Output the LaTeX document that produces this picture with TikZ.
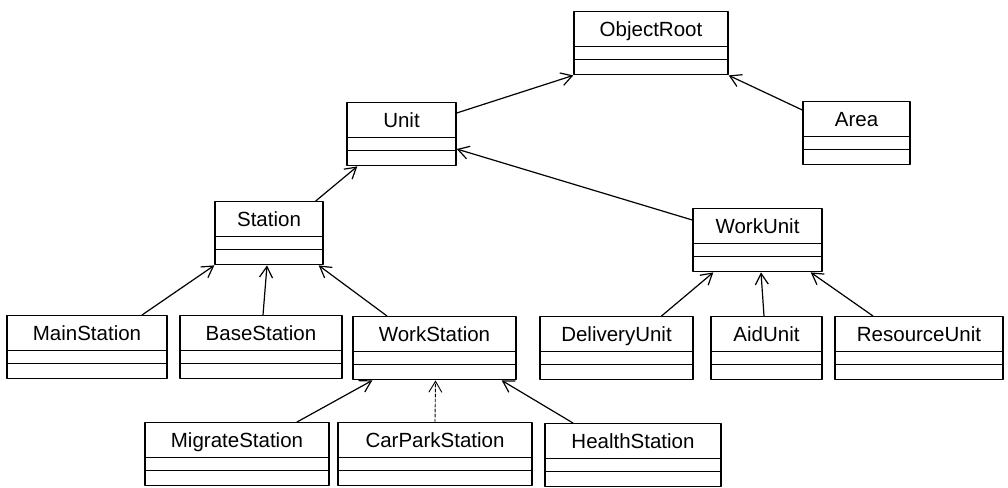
\documentclass[tikz,border=0pt]{standalone}
\usepackage{fontspec}
\setmainfont{Liberation Sans}
\usetikzlibrary{arrows.meta}
\begin{document}
\begin{tikzpicture}[x=1pt,y=-1pt,>={Straight Barb[length=11pt,width=13pt]},line cap=round,line join=round]
\path[fill=white] (0,0) rectangle (1008,486);
\tikzset{cls/.style={draw=black,line width=1.4pt,anchor=north,minimum height=63pt,inner sep=0pt,font=\fontsize{20.5}{24}\selectfont,text height=14.5pt,text depth=28.5pt,path picture={\draw[line width=1.4pt] ([yshift=-35pt]path picture bounding box.north west) -- ([yshift=-35pt]path picture bounding box.north east); \draw[line width=1.4pt] ([yshift=-47.5pt]path picture bounding box.north west) -- ([yshift=-47.5pt]path picture bounding box.north east);}},gen/.style={draw=black,line width=1.2pt,->},genreal/.style={draw=black,line width=0.9pt,densely dashed,->}}
% classes
\node[cls,minimum width=154pt] (objroot) at (651,11) {ObjectRoot};
\node[cls,minimum width=109pt] (unit) at (401.5,102) {Unit};
\node[cls,minimum width=107pt] (area) at (856.5,101) {Area};
\node[cls,minimum width=108pt] (station) at (269,201) {Station};
\node[cls,minimum width=129pt] (workunit) at (757.5,208) {WorkUnit};
\node[cls,minimum width=160pt] (mainst) at (87,315) {MainStation};
\node[cls,minimum width=162pt] (basest) at (261,315) {BaseStation};
\node[cls,minimum width=163pt] (workst) at (434.5,316) {WorkStation};
\node[cls,minimum width=153pt] (delivery) at (616.5,316) {DeliveryUnit};
\node[cls,minimum width=111pt] (aid) at (766.5,316) {AidUnit};
\node[cls,minimum width=168pt] (resource) at (919,316) {ResourceUnit};
\node[cls,minimum width=184pt] (migrate) at (237,422) {MigrateStation};
\node[cls,minimum width=194pt] (carpark) at (435,422) {CarParkStation};
\node[cls,minimum width=176pt] (health) at (633,423) {HealthStation};
% generalisations
\draw[gen] ([yshift=-11pt]unit.north east) -- (objroot.south west);
\draw[gen] ([yshift=-9pt]area.north west) -- (objroot.south east);
\draw[gen] ([xshift=-8pt]station.north east) -- ([xshift=11pt]unit.south west);
\draw[gen] ([yshift=-12pt]workunit.north west) -- ([yshift=-47pt]unit.north east);
\draw[gen] ([xshift=55pt]mainst.north) -- (station.south west);
\draw[gen] ([xshift=2pt]basest.north) -- ([xshift=-2pt]station.south);
\draw[gen] ([xshift=-47.5pt]workst.north) -- ([xshift=-5pt]station.south east);
\draw[gen] ([xshift=45pt]delivery.north) -- ([xshift=21pt]workunit.south west);
\draw[gen] ([xshift=-2.5pt]aid.north) -- ([xshift=3.5pt]workunit.south);
\draw[gen] ([xshift=-46pt]resource.north) -- ([xshift=-12pt]workunit.south east);
\draw[gen] ([xshift=60pt]migrate.north) -- ([xshift=20pt]workst.south west);
\draw[genreal] (carpark.north) -- ([xshift=1pt]workst.south);
\draw[gen] ([xshift=-60pt]health.north) -- ([xshift=-15pt]workst.south east);
\end{tikzpicture}
\end{document}
